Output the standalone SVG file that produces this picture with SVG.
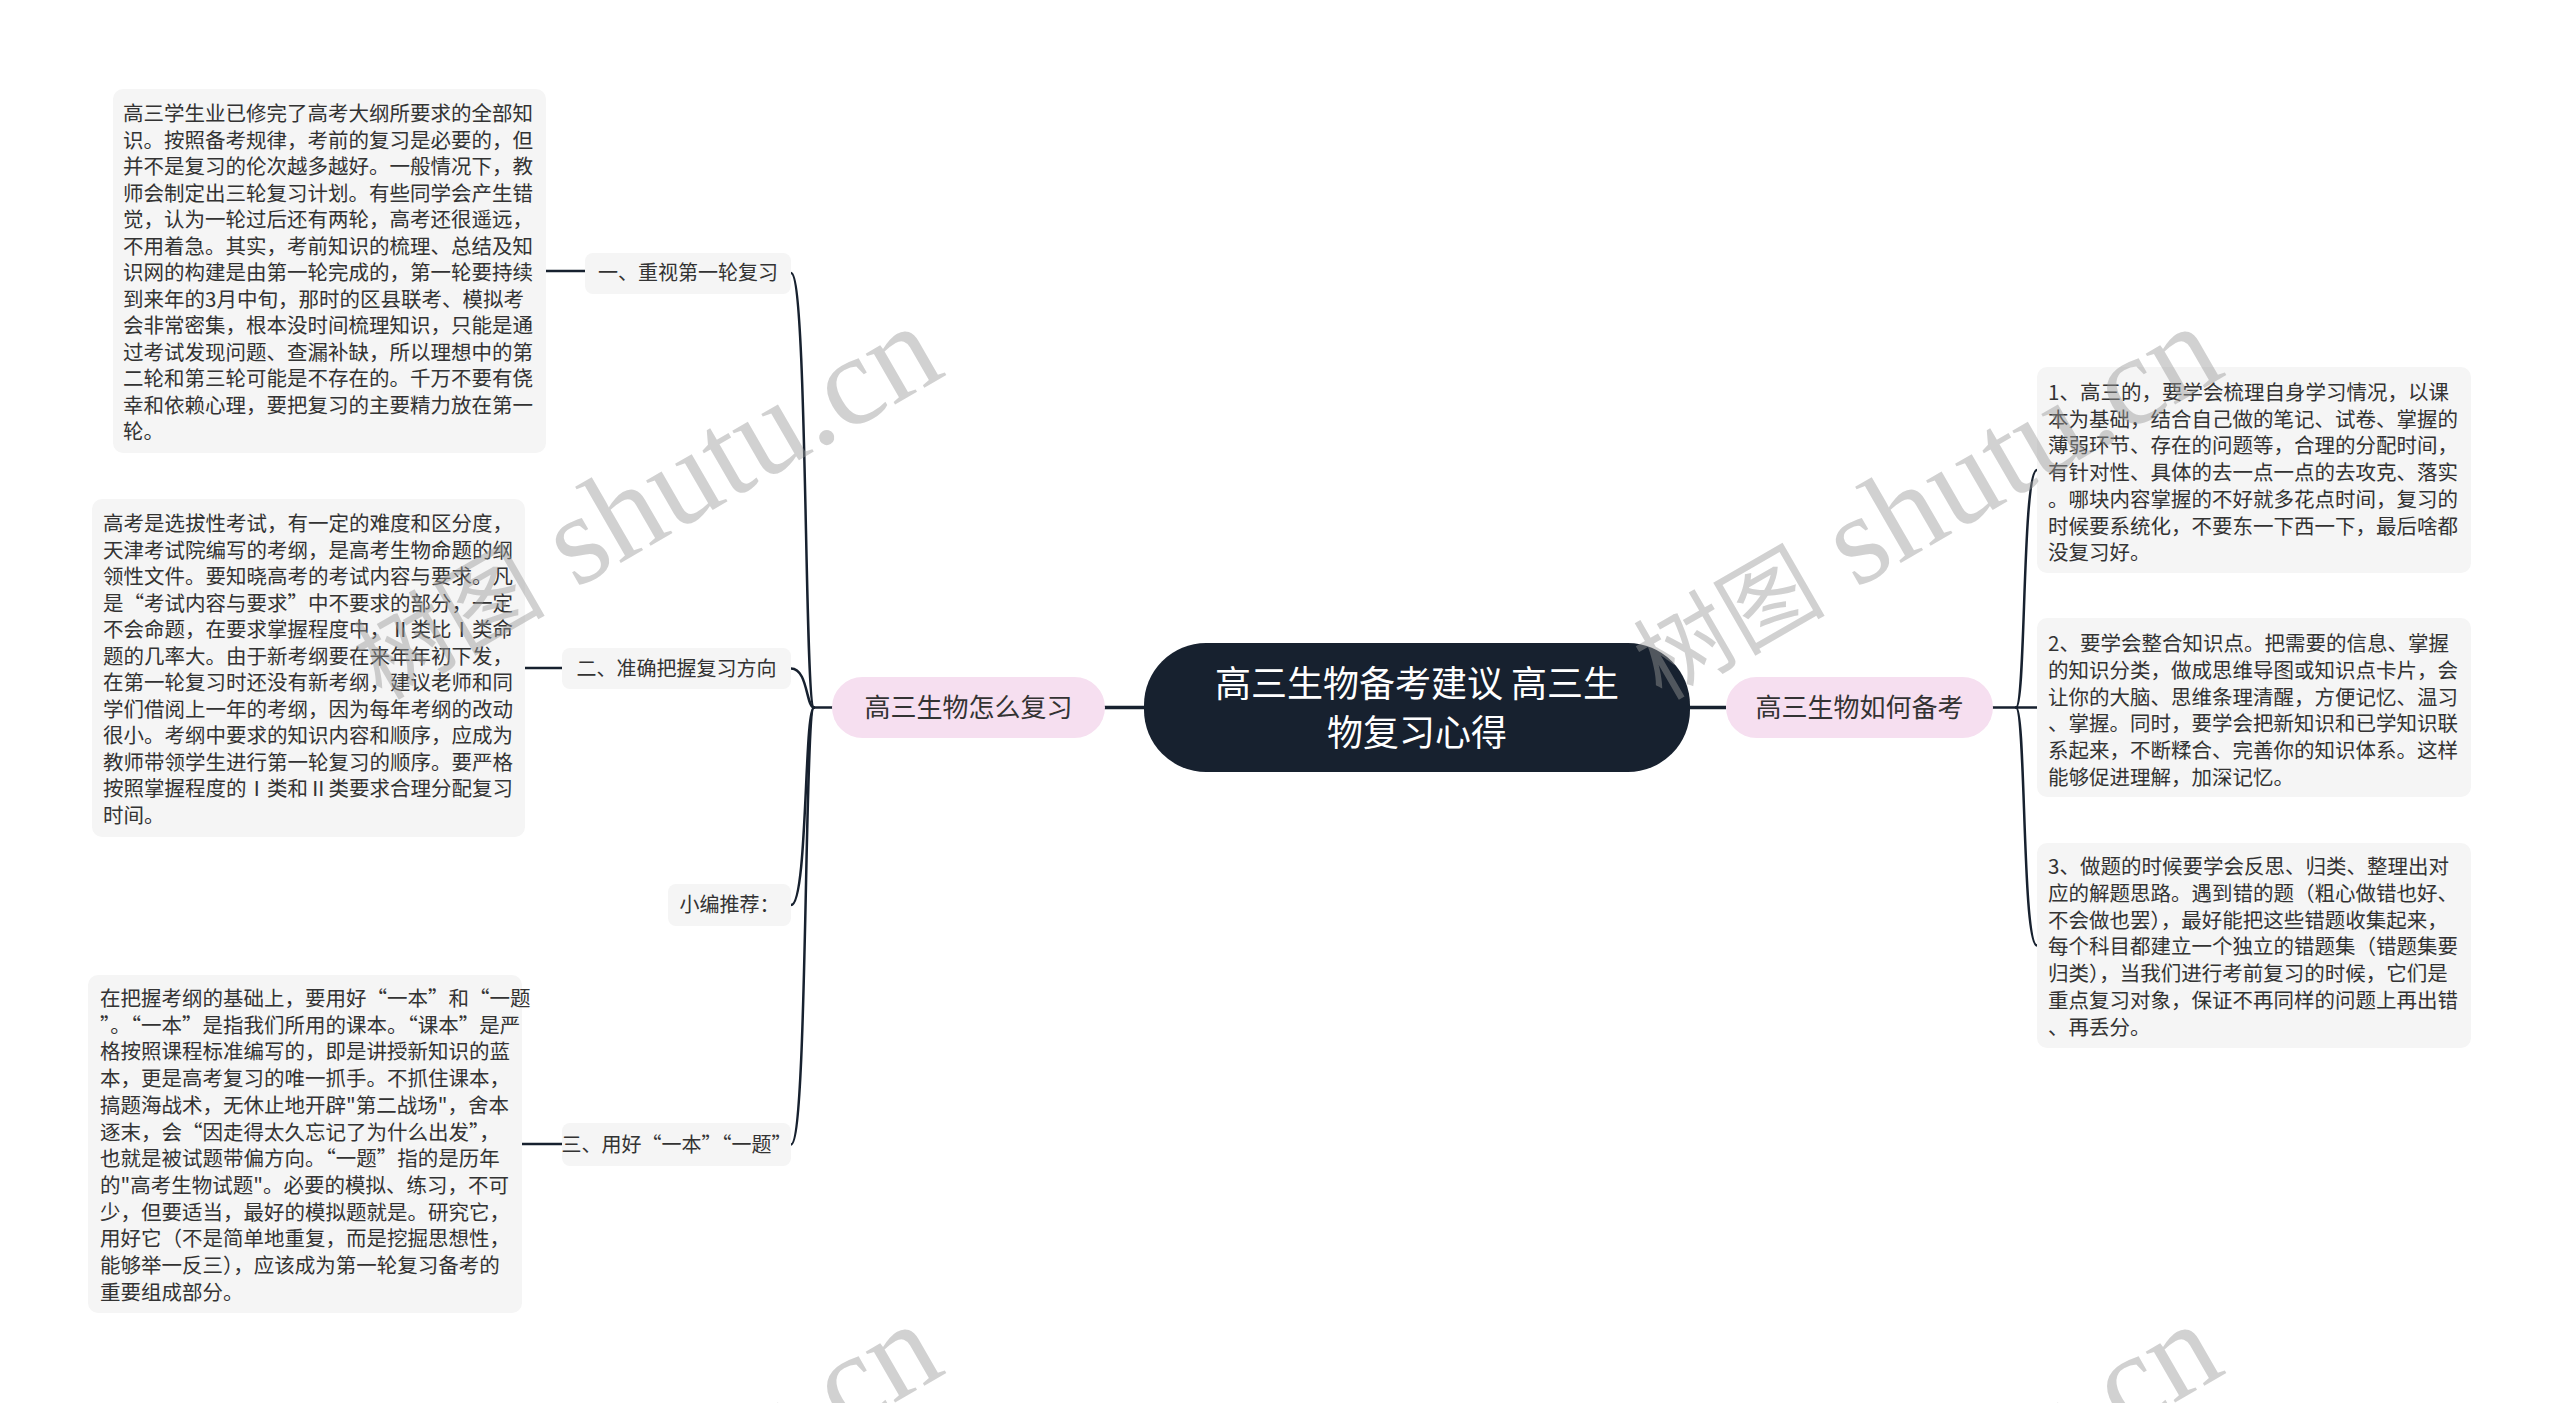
<svg xmlns="http://www.w3.org/2000/svg" width="2560" height="1403" viewBox="0 0 2560 1403">
<style>
.bg{fill:#ffffff}
.box{fill:#f5f5f5}
.pink{fill:#f6dff0}
.dark{fill:#17212f}
.t{font-family:"Noto Sans CJK SC","Noto Sans",sans-serif;font-size:20.5px;fill:#333333}
.ts{font-family:"Noto Sans CJK SC","Noto Sans",sans-serif;font-size:20px;fill:#333333;text-anchor:middle}
.tm{font-family:"Noto Sans CJK SC","Noto Sans",sans-serif;font-size:26px;fill:#333333;text-anchor:middle}
.tc{font-family:"Noto Sans CJK SC","Noto Sans",sans-serif;font-size:36px;fill:#ffffff;text-anchor:middle}
.c{fill:none;stroke:#17212f;stroke-width:2.5;stroke-linecap:round}
.cm{fill:none;stroke:#17212f;stroke-width:3.5}
.wm{font-family:"Liberation Serif","Noto Sans CJK SC",serif;font-size:128px;fill:#9a9a9a;fill-opacity:0.45;text-anchor:end}
</style>
<rect class="bg" x="0" y="0" width="2560" height="1403"/>
<g id="connectors">
<path class="cm" d="M1104 707.5 H1144"/>
<path class="cm" d="M1690 707.5 H1726"/>
<path class="c" d="M832 707.5 H814 C804 707.5 808 273 791 273"/>
<path class="c" d="M814 707.5 C806 707.5 808 668.5 791 668.5"/>
<path class="c" d="M814 707.5 C804 707.5 808 905 791 905"/>
<path class="c" d="M814 707.5 C804 707.5 808 1144.5 791 1144.5"/>
<path class="c" d="M546 271 H585"/>
<path class="c" d="M525 668 H562"/>
<path class="c" d="M522 1144 H562"/>
<path class="c" d="M1993 707.5 H2016 C2026 707.5 2022 470 2037 470"/>
<path class="c" d="M2016 707.5 H2037"/>
<path class="c" d="M2016 707.5 C2026 707.5 2022 945.5 2037 945.5"/>
</g>
<g id="root">
<rect class="dark" x="1144" y="643" width="546" height="129" rx="62"/>
<text class="tc" x="1417" y="697">高三生物备考建议 高三生</text>
<text class="tc" x="1417" y="746">物复习心得</text>
</g>
<g id="main-left">
<rect class="pink" x="832" y="677" width="273" height="61" rx="30.5"/>
<text class="tm" x="968.5" y="717">高三生物怎么复习</text>
</g>
<g id="main-right">
<rect class="pink" x="1726" y="677" width="267" height="61" rx="30.5"/>
<text class="tm" x="1859.5" y="717">高三生物如何备考</text>
</g>
<g id="sub1">
<rect class="box" x="585" y="253" width="206" height="41" rx="8"/>
<text class="ts" x="688" y="280">一、重视第一轮复习</text>
</g>
<g id="sub2">
<rect class="box" x="562" y="648" width="229" height="41" rx="8"/>
<text class="ts" x="676.5" y="676">二、准确把握复习方向</text>
</g>
<g id="sub3">
<rect class="box" x="668" y="884" width="123" height="42" rx="8"/>
<text class="ts" x="729.5" y="912">小编推荐：</text>
</g>
<g id="sub4">
<rect class="box" x="562" y="1123" width="229" height="43" rx="8"/>
<text class="ts" x="676.5" y="1152">三、用好“一本”“一题”</text>
</g>
<g id="leaf1">
<rect class="box" x="113" y="89" width="433" height="364" rx="10"/>
<text class="t" x="123" y="121">
<tspan x="123" dy="0">高三学生业已修完了高考大纲所要求的全部知</tspan>
<tspan x="123" dy="26.5">识。按照备考规律，考前的复习是必要的，但</tspan>
<tspan x="123" dy="26.5">并不是复习的伦次越多越好。一般情况下，教</tspan>
<tspan x="123" dy="26.5">师会制定出三轮复习计划。有些同学会产生错</tspan>
<tspan x="123" dy="26.5">觉，认为一轮过后还有两轮，高考还很遥远，</tspan>
<tspan x="123" dy="26.5">不用着急。其实，考前知识的梳理、总结及知</tspan>
<tspan x="123" dy="26.5">识网的构建是由第一轮完成的，第一轮要持续</tspan>
<tspan x="123" dy="26.5">到来年的3月中旬，那时的区县联考、模拟考</tspan>
<tspan x="123" dy="26.5">会非常密集，根本没时间梳理知识，只能是通</tspan>
<tspan x="123" dy="26.5">过考试发现问题、查漏补缺，所以理想中的第</tspan>
<tspan x="123" dy="26.5">二轮和第三轮可能是不存在的。千万不要有侥</tspan>
<tspan x="123" dy="26.5">幸和依赖心理，要把复习的主要精力放在第一</tspan>
<tspan x="123" dy="26.5">轮。</tspan>
</text>
</g>
<g id="leaf2">
<rect class="box" x="92" y="499" width="433" height="338" rx="10"/>
<text class="t" x="103" y="531">
<tspan x="103" dy="0">高考是选拔性考试，有一定的难度和区分度，</tspan>
<tspan x="103" dy="26.5">天津考试院编写的考纲，是高考生物命题的纲</tspan>
<tspan x="103" dy="26.5">领性文件。要知晓高考的考试内容与要求。凡</tspan>
<tspan x="103" dy="26.5">是“考试内容与要求”中不要求的部分，一定</tspan>
<tspan x="103" dy="26.5">不会命题，在要求掌握程度中，Ⅱ类比Ⅰ类命</tspan>
<tspan x="103" dy="26.5">题的几率大。由于新考纲要在来年年初下发，</tspan>
<tspan x="103" dy="26.5">在第一轮复习时还没有新考纲，建议老师和同</tspan>
<tspan x="103" dy="26.5">学们借阅上一年的考纲，因为每年考纲的改动</tspan>
<tspan x="103" dy="26.5">很小。考纲中要求的知识内容和顺序，应成为</tspan>
<tspan x="103" dy="26.5">教师带领学生进行第一轮复习的顺序。要严格</tspan>
<tspan x="103" dy="26.5">按照掌握程度的Ⅰ类和Ⅱ类要求合理分配复习</tspan>
<tspan x="103" dy="26.5">时间。</tspan>
</text>
</g>
<g id="leaf3">
<rect class="box" x="88" y="975" width="434" height="338" rx="10"/>
<text class="t" x="100" y="1006">
<tspan x="100" dy="0">在把握考纲的基础上，要用好“一本”和“一题</tspan>
<tspan x="100" dy="26.7">”。“一本”是指我们所用的课本。“课本”是严</tspan>
<tspan x="100" dy="26.7">格按照课程标准编写的，即是讲授新知识的蓝</tspan>
<tspan x="100" dy="26.7">本，更是高考复习的唯一抓手。不抓住课本，</tspan>
<tspan x="100" dy="26.7">搞题海战术，无休止地开辟"第二战场"，舍本</tspan>
<tspan x="100" dy="26.7">逐末，会“因走得太久忘记了为什么出发”，</tspan>
<tspan x="100" dy="26.7">也就是被试题带偏方向。“一题”指的是历年</tspan>
<tspan x="100" dy="26.7">的"高考生物试题"。必要的模拟、练习，不可</tspan>
<tspan x="100" dy="26.7">少，但要适当，最好的模拟题就是。研究它，</tspan>
<tspan x="100" dy="26.7">用好它（不是简单地重复，而是挖掘思想性，</tspan>
<tspan x="100" dy="26.7">能够举一反三），应该成为第一轮复习备考的</tspan>
<tspan x="100" dy="26.7">重要组成部分。</tspan>
</text>
</g>
<g id="leafR1">
<rect class="box" x="2037" y="367" width="434" height="206" rx="10"/>
<text class="t" x="2048" y="400">
<tspan x="2048" dy="0">1、高三的，要学会梳理自身学习情况，以课</tspan>
<tspan x="2048" dy="26.7">本为基础，结合自己做的笔记、试卷、掌握的</tspan>
<tspan x="2048" dy="26.7">薄弱环节、存在的问题等，合理的分配时间，</tspan>
<tspan x="2048" dy="26.7">有针对性、具体的去一点一点的去攻克、落实</tspan>
<tspan x="2048" dy="26.7">。哪块内容掌握的不好就多花点时间，复习的</tspan>
<tspan x="2048" dy="26.7">时候要系统化，不要东一下西一下，最后啥都</tspan>
<tspan x="2048" dy="26.7">没复习好。</tspan>
</text>
</g>
<g id="leafR2">
<rect class="box" x="2037" y="618" width="434" height="179" rx="10"/>
<text class="t" x="2048" y="651">
<tspan x="2048" dy="0">2、要学会整合知识点。把需要的信息、掌握</tspan>
<tspan x="2048" dy="26.8">的知识分类，做成思维导图或知识点卡片，会</tspan>
<tspan x="2048" dy="26.8">让你的大脑、思维条理清醒，方便记忆、温习</tspan>
<tspan x="2048" dy="26.8">、掌握。同时，要学会把新知识和已学知识联</tspan>
<tspan x="2048" dy="26.8">系起来，不断糅合、完善你的知识体系。这样</tspan>
<tspan x="2048" dy="26.8">能够促进理解，加深记忆。</tspan>
</text>
</g>
<g id="leafR3">
<rect class="box" x="2037" y="843" width="434" height="205" rx="10"/>
<text class="t" x="2048" y="874">
<tspan x="2048" dy="0">3、做题的时候要学会反思、归类、整理出对</tspan>
<tspan x="2048" dy="26.8">应的解题思路。遇到错的题（粗心做错也好、</tspan>
<tspan x="2048" dy="26.8">不会做也罢），最好能把这些错题收集起来，</tspan>
<tspan x="2048" dy="26.8">每个科目都建立一个独立的错题集（错题集要</tspan>
<tspan x="2048" dy="26.8">归类），当我们进行考前复习的时候，它们是</tspan>
<tspan x="2048" dy="26.8">重点复习对象，保证不再同样的问题上再出错</tspan>
<tspan x="2048" dy="26.8">、再丢分。</tspan>
</text>
</g>
<g id="watermarks">
<text class="wm" transform="translate(948 374) rotate(-30)" x="0" y="0"><tspan font-size="96">树图</tspan> shutu.cn</text>
<text class="wm" transform="translate(2228 374) rotate(-30)" x="0" y="0"><tspan font-size="96">树图</tspan> shutu.cn</text>
<text class="wm" transform="translate(948 1372) rotate(-30)" x="0" y="0"><tspan font-size="96">树图</tspan> shutu.cn</text>
<text class="wm" transform="translate(2228 1372) rotate(-30)" x="0" y="0"><tspan font-size="96">树图</tspan> shutu.cn</text>
</g>
</svg>
